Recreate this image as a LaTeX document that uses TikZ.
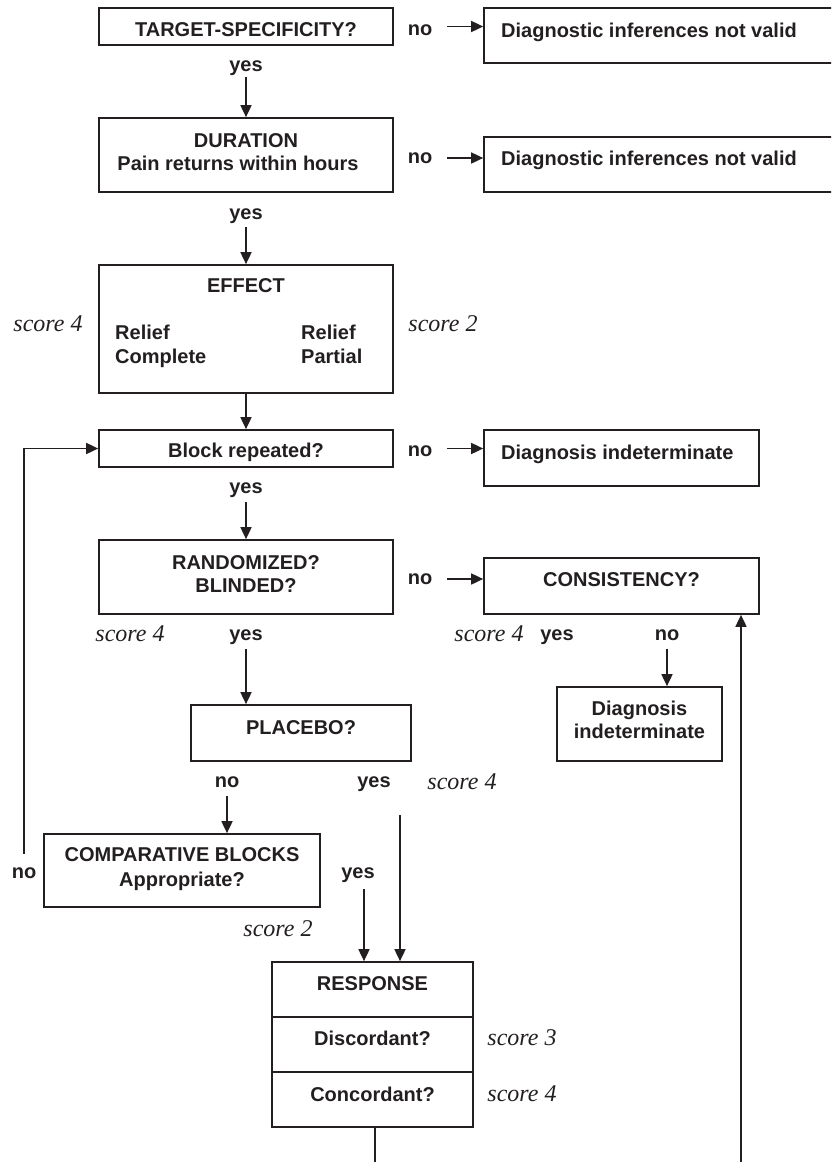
\documentclass[tikz,border=0pt]{standalone}
\usepackage{fontspec}
\setmainfont{Liberation Sans}
\newfontfamily\scorefont{Liberation Serif}
\usetikzlibrary{arrows.meta}
\definecolor{ink}{HTML}{231F20}
\tikzset{
  box/.style={draw=ink, line width=1.7pt, inner sep=0pt, fill=none},
  lbl/.style={font=\fontsize{20}{23.5}\selectfont\bfseries, text=ink, inner sep=0pt, text height=14.4pt, text depth=0pt},
  yn/.style={font=\fontsize{20}{23.5}\selectfont\bfseries, text=ink, inner sep=0pt, text height=10.4pt, text depth=0pt},
  sc/.style={font=\scorefont\itshape\fontsize{24}{28}\selectfont, text=ink, inner sep=0pt, text height=10.8pt, text depth=0pt},
  arr/.style={draw=ink, line width=1.7pt, -{Triangle[length=12pt,width=11pt]}},
  ln/.style={draw=ink, line width=1.7pt},
}
\begin{document}
\begin{tikzpicture}[x=1pt,y=-1pt]
\clip (0,0) rectangle (831,1162);
\useasboundingbox (0,0) rectangle (831,1162);
% boxes
\node[box, minimum width=294pt, minimum height=37pt] (A) at (246,26.5) {};
\node[box, minimum width=350pt, minimum height=55pt] (B) at (659,35.5) {};
\node[box, minimum width=294pt, minimum height=74pt] (C) at (246,155) {};
\node[box, minimum width=350pt, minimum height=55pt] (D) at (659,164.5) {};
\node[box, minimum width=294pt, minimum height=128pt] (E) at (246,329) {};
\node[box, minimum width=294pt, minimum height=37pt] (F) at (246,448.5) {};
\node[box, minimum width=275pt, minimum height=56pt] (G) at (621.5,458) {};
\node[box, minimum width=294pt, minimum height=74pt] (H) at (246,577) {};
\node[box, minimum width=275pt, minimum height=56pt] (I) at (621.5,586) {};
\node[box, minimum width=220pt, minimum height=56pt] (J) at (301,733) {};
\node[box, minimum width=165pt, minimum height=74pt] (K) at (639.5,724) {};
\node[box, minimum width=276pt, minimum height=73pt] (L) at (182,870.5) {};
\node[box, minimum width=201pt, minimum height=55pt] (M) at (372.5,989.5) {};
\node[box, minimum width=201pt, minimum height=55pt] (N) at (372.5,1044.5) {};
\node[box, minimum width=201pt, minimum height=55pt] (O) at (372.5,1099.5) {};
% box texts
\node[lbl] (At) at (246,29) {TARGET-SPECIFICITY?};
\node[lbl, anchor=west] (Bt) at (501,30) {Diagnostic inferences not valid};
\node[lbl] (Ct1) at (246,140) {DURATION};
\node[lbl] (Ct2) at (238,163) {Pain returns within hours};
\node[lbl, anchor=west] (Dt) at (501,158) {Diagnostic inferences not valid};
\node[lbl] (Et) at (246,285) {EFFECT};
\node[lbl, anchor=west] (Ea1) at (115,332) {Relief};
\node[lbl, anchor=west] (Ea2) at (115,356) {Complete};
\node[lbl, anchor=west] (Eb1) at (301,332) {Relief};
\node[lbl, anchor=west] (Eb2) at (301,356) {Partial};
\node[lbl] (Ft) at (246,450) {Block repeated?};
\node[lbl, anchor=west] (Gt) at (501,452) {Diagnosis indeterminate};
\node[lbl] (Ht1) at (246,562) {RANDOMIZED?};
\node[lbl] (Ht2) at (246,585) {BLINDED?};
\node[lbl] (It) at (621.5,579) {CONSISTENCY?};
\node[lbl] (Jt) at (301,727) {PLACEBO?};
\node[lbl] (Kt1) at (639.5,708) {Diagnosis};
\node[lbl] (Kt2) at (639.5,731) {indeterminate};
\node[lbl] (Lt1) at (182,854) {COMPARATIVE BLOCKS};
\node[lbl] (Lt2) at (182,879) {Appropriate?};
\node[lbl] (Mt) at (372.5,983) {RESPONSE};
\node[lbl] (Nt) at (372.5,1038) {Discordant?};
\node[lbl] (Ot) at (372.5,1094) {Concordant?};
% yes / no labels
\node[yn] (noA) at (420,30) {no};
\node[yn] (yesA) at (246,66) {yes};
\node[yn] (noC) at (420,158) {no};
\node[yn] (yesC) at (246,214) {yes};
\node[yn] (noF) at (420,451) {no};
\node[yn] (yesF) at (246,488) {yes};
\node[yn] (noH) at (420,579) {no};
\node[yn] (yesH) at (246,635) {yes};
\node[yn] (yesI) at (557,635) {yes};
\node[yn] (noI) at (667,635) {no};
\node[yn] (noJ) at (227,782) {no};
\node[yn] (yesJ) at (374,782) {yes};
\node[yn] (noL) at (24,873) {no};
\node[yn] (yesL) at (358,873) {yes};
% scores
\node[sc] (s1) at (48,326) {score 4};
\node[sc] (s2) at (443,326) {score 2};
\node[sc] (s3) at (130,636) {score 4};
\node[sc] (s4) at (489,636) {score 4};
\node[sc] (s5) at (462,784) {score 4};
\node[sc] (s6) at (278,931) {score 2};
\node[sc] (s7) at (522,1040) {score 3};
\node[sc] (s8) at (522,1096) {score 4};
% helper coordinates
\coordinate (ypStart) at (400,815);
\coordinate (ylStart) at (364,889);
\coordinate (rbot) at (375,1170);
\coordinate (rb) at (741,1170);
% connectors
\draw[arr] ([xshift=15pt]noA.east |- A.east) -- (A.east -| B.west);
\draw[arr] ([yshift=-6pt]yesA.south) -- (C.north);
\draw[arr] ([xshift=15pt]noC.east |- noC) -- (noC -| D.west);
\draw[arr] ([yshift=-8pt]yesC.south) -- (E.north);
\draw[arr] (E.south) -- (F.north);
\draw[arr] ([xshift=15pt]noF.east |- F.east) -- (F.east -| G.west);
\draw[arr] ([yshift=-9pt]yesF.south) -- (H.north);
\draw[arr] ([xshift=15pt]noH.east |- noH) -- (noH -| I.west);
\draw[arr] ([yshift=-9pt]yesH.south) -- (yesH.south |- J.north);
\draw[arr] ([yshift=-9pt]noI.south) -- (noI.south |- K.north);
\draw[arr] ([yshift=-9pt]noJ.south) -- (noJ.south |- L.north);
\draw[arr] (ypStart) -- (ypStart |- M.north);
\draw[arr] (ylStart) -- (ylStart |- M.north);
\draw[arr] ([yshift=14pt]noL.north) |- (F.west);
\draw[ln] (O.south -| rbot) -- (rbot);
\draw[arr] (rb) -- (rb |- I.south);
\end{tikzpicture}
\end{document}
